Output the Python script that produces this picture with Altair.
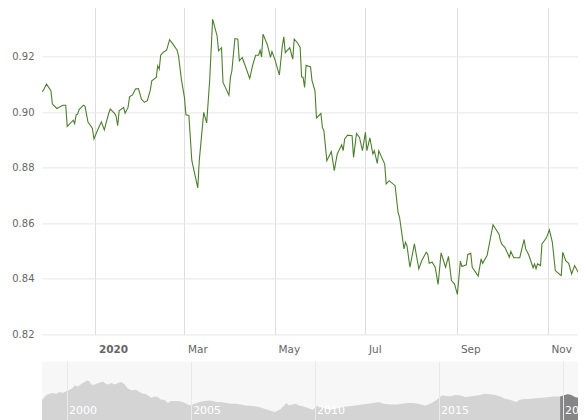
import altair as alt
import pandas as pd

FONT = "DejaVu Sans"
LINE_COLOR = "#4d7e2e"
GRID_Y = "#e6e6e6"
GRID_X = "#dedede"
LABEL_COLOR = "#666666"

# ---- main series (USD -> EUR) ----
dates = [
    "2019-11-26", "2019-11-27", "2019-11-29", "2019-12-02", "2019-12-03", "2019-12-06", "2019-12-10",
    "2019-12-12", "2019-12-13", "2019-12-15", "2019-12-17", "2019-12-18", "2019-12-19", "2019-12-20",
    "2019-12-21", "2019-12-24", "2019-12-25", "2019-12-27", "2019-12-30", "2019-12-31",
    "2020-01-03", "2020-01-05", "2020-01-07", "2020-01-08", "2020-01-10", "2020-01-11", "2020-01-14",
    "2020-01-15", "2020-01-16", "2020-01-17", "2020-01-20", "2020-01-21", "2020-01-23", "2020-01-24",
    "2020-01-26", "2020-01-28", "2020-01-30",
    "2020-02-01", "2020-02-03", "2020-02-05", "2020-02-07", "2020-02-08", "2020-02-11", "2020-02-12",
    "2020-02-13", "2020-02-14", "2020-02-16", "2020-02-18", "2020-02-20", "2020-02-22", "2020-02-25",
    "2020-02-26", "2020-02-28",
    "2020-03-01", "2020-03-02", "2020-03-04", "2020-03-06", "2020-03-10", "2020-03-11", "2020-03-14",
    "2020-03-16", "2020-03-18", "2020-03-20", "2020-03-23", "2020-03-24", "2020-03-26", "2020-03-27",
    "2020-03-31",
    "2020-04-01", "2020-04-02", "2020-04-04", "2020-04-06", "2020-04-07", "2020-04-09", "2020-04-14",
    "2020-04-16", "2020-04-18", "2020-04-20", "2020-04-21", "2020-04-22", "2020-04-23", "2020-04-26",
    "2020-04-28", "2020-04-29",
    "2020-05-01", "2020-05-04", "2020-05-06", "2020-05-07", "2020-05-08", "2020-05-11", "2020-05-13",
    "2020-05-14", "2020-05-16", "2020-05-18", "2020-05-19", "2020-05-20", "2020-05-21", "2020-05-22",
    "2020-05-25", "2020-05-26", "2020-05-28", "2020-05-29",
    "2020-06-01", "2020-06-02", "2020-06-03", "2020-06-05", "2020-06-08", "2020-06-10", "2020-06-12",
    "2020-06-15", "2020-06-16", "2020-06-17", "2020-06-19", "2020-06-22", "2020-06-23", "2020-06-25",
    "2020-06-27", "2020-06-29",
    "2020-07-01", "2020-07-02", "2020-07-04", "2020-07-06", "2020-07-07", "2020-07-09", "2020-07-10",
    "2020-07-14", "2020-07-15", "2020-07-17", "2020-07-21", "2020-07-23", "2020-07-24", "2020-07-27",
    "2020-07-28", "2020-07-29", "2020-07-31",
    "2020-08-03", "2020-08-06", "2020-08-08", "2020-08-11", "2020-08-12", "2020-08-13", "2020-08-15",
    "2020-08-17", "2020-08-19", "2020-08-21", "2020-08-24", "2020-08-26", "2020-08-28", "2020-08-30",
    "2020-09-01", "2020-09-03", "2020-09-04", "2020-09-07", "2020-09-08", "2020-09-10", "2020-09-11",
    "2020-09-15", "2020-09-17", "2020-09-18", "2020-09-21", "2020-09-25", "2020-09-26", "2020-09-29",
    "2020-09-30",
    "2020-10-01", "2020-10-03", "2020-10-06", "2020-10-07", "2020-10-09", "2020-10-13", "2020-10-16",
    "2020-10-17", "2020-10-19", "2020-10-22", "2020-10-23", "2020-10-24", "2020-10-25", "2020-10-27",
    "2020-10-28", "2020-10-31",
    "2020-11-02", "2020-11-04", "2020-11-06", "2020-11-09", "2020-11-10", "2020-11-11", "2020-11-13",
    "2020-11-15", "2020-11-17", "2020-11-19", "2020-11-22", "2020-11-23", "2020-11-25", "2020-11-26",
]
rates = [
    0.9075, 0.9080, 0.9102, 0.9078, 0.9030, 0.9014, 0.9026, 0.9026, 0.8949, 0.8960, 0.8972, 0.8960,
    0.8991, 0.8994, 0.9010, 0.9026, 0.9022, 0.8965, 0.8942, 0.8904,
    0.8943, 0.8966, 0.8937, 0.8958, 0.8997, 0.9012, 0.8996, 0.8985, 0.8952, 0.9006, 0.9018, 0.8997,
    0.9018, 0.9056, 0.9063, 0.9084, 0.9086,
    0.9048, 0.9036, 0.9042, 0.9080, 0.9114, 0.9126, 0.9168, 0.9156, 0.9206, 0.9218, 0.9224, 0.9262,
    0.9248, 0.9225, 0.9204, 0.9117,
    0.9054, 0.8991, 0.8989, 0.8826, 0.8728, 0.8826, 0.9000, 0.8962, 0.9114, 0.9336, 0.9276, 0.9222,
    0.9233, 0.9108, 0.9062,
    0.9126, 0.9150, 0.9266, 0.9264, 0.9186, 0.9198, 0.9122, 0.9170, 0.9206, 0.9206, 0.9224, 0.9200,
    0.9282, 0.9242, 0.9198, 0.9219,
    0.9190, 0.9135, 0.9240, 0.9272, 0.9215, 0.9233, 0.9192, 0.9264, 0.9252, 0.9234, 0.9128, 0.9126,
    0.9090, 0.9170, 0.9164, 0.9114, 0.9078, 0.8980,
    0.8996, 0.8946, 0.8934, 0.8826, 0.8859, 0.8790, 0.8850, 0.8883, 0.8862, 0.8904, 0.8918, 0.8916,
    0.8838, 0.8924, 0.8910, 0.8862,
    0.8928, 0.8862, 0.8908, 0.8850, 0.8862, 0.8816, 0.8862, 0.8814, 0.8742, 0.8754, 0.8736, 0.8640,
    0.8622, 0.8508, 0.8532, 0.8520, 0.8442,
    0.8526, 0.8436, 0.8466, 0.8496, 0.8490, 0.8456, 0.8460, 0.8442, 0.8380, 0.8494, 0.8442, 0.8481,
    0.8394, 0.8382,
    0.8344, 0.8464, 0.8445, 0.8451, 0.8488, 0.8492, 0.8442, 0.8410, 0.8472, 0.8456, 0.8484, 0.8595,
    0.8586, 0.8562, 0.8538,
    0.8524, 0.8514, 0.8478, 0.8499, 0.8476, 0.8476, 0.8542, 0.8508, 0.8488, 0.8440, 0.8454, 0.8436,
    0.8454, 0.8448, 0.8526, 0.8548,
    0.8577, 0.8532, 0.8430, 0.8416, 0.8412, 0.8496, 0.8466, 0.8456, 0.8418, 0.8448, 0.8418, 0.8404,
    0.8428, 0.8416,
]

# ---- navigator series (long history) ----
nav_dates = [
    "1999-01-04", "1999-03-14", "1999-05-26", "1999-08-07", "1999-09-23", "1999-11-10",
    "2000-01-01", "2000-03-14", "2000-05-01", "2000-06-21", "2000-08-07", "2000-09-27", "2000-10-19",
    "2000-11-28", "2001-01-01", "2001-02-21", "2001-04-09", "2001-05-31", "2001-06-21", "2001-07-31",
    "2001-09-02", "2001-10-23", "2001-12-09", "2002-01-26", "2002-03-18", "2002-05-05", "2002-06-25",
    "2002-08-11", "2002-10-23", "2002-12-09", "2003-01-30", "2003-03-18", "2003-05-30", "2003-07-19",
    "2003-09-05", "2003-10-27", "2003-12-13", "2004-01-30", "2004-03-20", "2004-05-08", "2004-06-25",
    "2004-09-06", "2004-11-22", "2005-01-08", "2005-02-25", "2005-05-12", "2005-07-24", "2005-10-05",
    "2005-11-22", "2006-01-12", "2006-03-26", "2006-06-07", "2006-08-19", "2006-10-31", "2007-01-12",
    "2007-03-26", "2007-07-02", "2007-10-09", "2007-12-20", "2008-03-04", "2008-05-16", "2008-07-02",
    "2008-08-22", "2008-10-09", "2008-11-10", "2008-12-20", "2009-02-06", "2009-03-29", "2009-05-16",
    "2009-07-06", "2009-09-17", "2009-11-29", "2009-12-24", "2010-02-10", "2010-04-02", "2010-06-14",
    "2010-08-26", "2010-11-07", "2011-02-10", "2011-05-19", "2011-08-26", "2011-12-02", "2012-02-14",
    "2012-05-22", "2012-08-04", "2012-10-16", "2013-01-23", "2013-04-28", "2013-07-09", "2013-09-20",
    "2013-12-06", "2014-03-11", "2014-06-18", "2014-09-24", "2014-12-06", "2015-02-17", "2015-04-09",
    "2015-06-21", "2015-09-02", "2015-11-14", "2016-01-26", "2016-04-09", "2016-06-21", "2016-09-02",
    "2016-11-14", "2017-01-26", "2017-04-13", "2017-06-25", "2017-09-06", "2017-11-18", "2018-01-04",
    "2018-02-21", "2018-04-13", "2018-06-25", "2018-10-01", "2019-01-08", "2019-03-22", "2019-06-03",
    "2019-09-09", "2019-11-26", "2020-02-03", "2020-03-20", "2020-05-08", "2020-06-28", "2020-08-14",
    "2020-10-27", "2020-11-26",
]
nav_rates = [
    0.849, 0.939, 0.968, 0.957, 0.986, 0.968,
    1.004, 1.047, 1.107, 1.089, 1.138, 1.167, 1.197,
    1.185, 1.120, 1.125, 1.148, 1.167, 1.179, 1.138,
    1.125, 1.148, 1.125, 1.148, 1.167, 1.125, 1.047,
    1.017, 1.029, 0.986, 0.957, 0.945, 0.885, 0.908,
    0.896, 0.849, 0.849, 0.787, 0.824, 0.824, 0.824,
    0.806, 0.764, 0.746, 0.777, 0.806, 0.824, 0.836,
    0.824, 0.806, 0.806, 0.787, 0.777, 0.777, 0.764,
    0.746, 0.733, 0.715, 0.686, 0.656, 0.625, 0.643,
    0.686, 0.746, 0.787, 0.746, 0.764, 0.777, 0.746,
    0.728, 0.704, 0.668, 0.686, 0.746, 0.715, 0.686,
    0.668, 0.686, 0.715, 0.728, 0.746, 0.764, 0.777,
    0.787, 0.806, 0.777, 0.764, 0.764, 0.777, 0.787,
    0.787, 0.777, 0.746, 0.787, 0.849, 0.926, 0.921,
    0.908, 0.932, 0.926, 0.896, 0.908, 0.921, 0.932,
    0.957, 0.945, 0.932, 0.908, 0.867, 0.849, 0.824,
    0.806, 0.849, 0.860, 0.867, 0.878, 0.885, 0.896,
    0.908, 0.908, 0.932, 0.945, 0.932, 0.896, 0.885,
    0.862, 0.850,
]

# ---- ticks / ranges ----
y_ticks = [0.82, 0.84, 0.86, 0.88, 0.90, 0.92, 0.94]
x_ticks = ["2020-01-01", "2020-03-01", "2020-05-01", "2020-07-01", "2020-09-01", "2020-11-01"]
nav_year_ticks = ["2000-01-01", "2005-01-01", "2010-01-01", "2015-01-01", "2020-01-01"]
nav_year_labels = ["2000", "2005", "2010", "2015", "2020"]
main_range = ["2019-11-26", "2020-11-26"]
nav_range = ["1999-01-04", "2020-11-26"]


def dt(s):
    y, m, d = (int(p) for p in s.split("-"))
    return alt.DateTime(year=y, month=m, date=d, utc=True)


df = pd.DataFrame({"date": dates, "rate": rates})
nav = pd.DataFrame({"date": nav_dates, "rate": nav_rates})
nav_sel = nav[nav["date"] >= main_range[0]]
top_rule = pd.DataFrame({"v": [y_ticks[-1]]})
years_df = pd.DataFrame({"date": nav_year_ticks, "label": nav_year_labels})

x_main = alt.X(
    "date:T",
    title=None,
    scale=alt.Scale(type="utc", domain=[dt(main_range[0]), dt(main_range[1])]),
    axis=alt.Axis(
        values=[dt(s) for s in x_ticks],
        labelExpr="utcmonth(datum.value) == 0 ? utcFormat(datum.value, '%Y') : utcFormat(datum.value, '%b')",
        labelFontWeight={"condition": {"test": "utcmonth(datum.value) == 0", "value": "bold"}, "value": "normal"},
        labelAlign="left",
        labelBaseline="alphabetic",
        labelOffset=3,
        labelPadding=18.5,
        labelFont=FONT,
        labelFontSize=10.5,
        labelColor=LABEL_COLOR,
        labelFlush=False,
        labelOverlap=False,
        ticks=False,
        tickSize=0,
        domain=False,
        grid=True,
        gridColor=GRID_X,
        title=None,
    ),
)

y_main = alt.Y(
    "rate:Q",
    title=None,
    scale=alt.Scale(domain=[y_ticks[0], y_ticks[-1]], nice=False, zero=False),
    axis=alt.Axis(
        values=y_ticks[:-1],
        format=".2f",
        labelFont=FONT,
        labelFontSize=10,
        labelColor=LABEL_COLOR,
        labelPadding=8,
        ticks=False,
        tickSize=0,
        domain=False,
        grid=True,
        gridColor=GRID_Y,
        title=None,
    ),
)

line = alt.Chart(df).mark_line(color=LINE_COLOR, strokeWidth=1.1, clip=True).encode(x=x_main, y=y_main)
rule = alt.Chart(top_rule).mark_rule(color=GRID_Y, strokeWidth=1).encode(y=alt.Y("v:Q", title=None))
main = alt.layer(rule, line).properties(width=543, height=333)

x_nav = alt.X(
    "date:T",
    title=None,
    scale=alt.Scale(type="utc", domain=[dt(nav_range[0]), dt(nav_range[1])]),
    axis=alt.Axis(
        values=[dt(s) for s in nav_year_ticks],
        labels=False,
        ticks=False,
        domain=False,
        grid=True,
        gridColor="#e9e9e9",
        zindex=1,
        title=None,
    ),
)
y_nav = alt.Y("rate:Q", title=None, axis=None,
              scale=alt.Scale(domain=[0.475, 1.54], nice=False, zero=False))

nav_area = alt.Chart(nav).mark_area(color="#d4d4d4", clip=True).encode(x=x_nav, y=y_nav)
nav_dark = alt.Chart(nav_sel).mark_area(color="#858585", clip=True).encode(x="date:T", y="rate:Q")
nav_text = alt.Chart(years_df).mark_text(
    align="left", baseline="middle", dx=2.5, color="white", fontSize=11, font=FONT, clip=True
).encode(x="date:T", y=alt.value(50), text="label:N")

navigator = alt.layer(nav_area, nav_dark, nav_text).properties(
    width=543, height=59, view=alt.ViewBackground(fill="#f7f7f7", strokeWidth=0)
)

chart = (
    alt.vconcat(main, navigator, spacing=27, bounds="flush")
    .properties(padding={"left": 3, "top": -7.6, "right": -8.5, "bottom": 0}, background="white")
    .configure_view(strokeWidth=0)
)

chart.save("out.html", embed_options={"renderer": "svg", "actions": False})
